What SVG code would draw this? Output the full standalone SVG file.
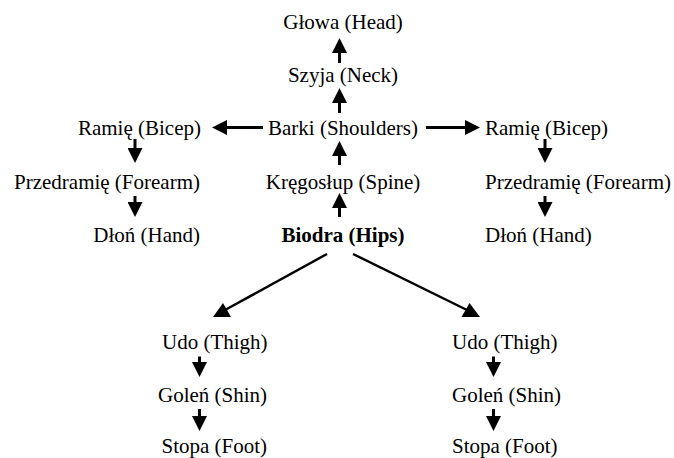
<svg xmlns="http://www.w3.org/2000/svg" width="674" height="458" viewBox="0 0 674 458">
<style>
text{font-family:"Liberation Serif","Times New Roman",serif;font-size:21px;fill:#000}
.b{font-weight:bold}
.c{text-anchor:middle}
.e{text-anchor:end}
.s{stroke:#000;stroke-width:3;fill:none}
.d{stroke:#000;stroke-width:2.5;fill:none}
.a{marker-end:url(#ah)}
</style>
<defs>
<marker id="ah" markerUnits="userSpaceOnUse" markerWidth="15" markerHeight="15" viewBox="0 0 15 15" refX="0" refY="7.5" orient="auto"><path d="M0,0 L15,7.5 L0,15 Z" fill="#000"/></marker>
</defs>
<rect width="674" height="458" fill="#fff"/>
<g id="connectors">
<line class="s a" x1="339.5" y1="63" x2="339.5" y2="53"/>
<line class="s a" x1="339.5" y1="113" x2="339.5" y2="103"/>
<line class="s a" x1="339.5" y1="165" x2="339.5" y2="156"/>
<line class="s a" x1="339.5" y1="217" x2="339.5" y2="208"/>
<line class="s a" x1="263" y1="127.5" x2="227" y2="127.5"/>
<line class="s a" x1="426" y1="127.5" x2="465" y2="127.5"/>
<line class="s a" x1="135" y1="139" x2="135" y2="148"/>
<line class="s a" x1="135" y1="196" x2="135" y2="202"/>
<line class="s a" x1="545" y1="139" x2="545" y2="148"/>
<line class="s a" x1="545" y1="196" x2="545" y2="202"/>
<line class="s a" x1="199.5" y1="356.5" x2="199.5" y2="362"/>
<line class="s a" x1="199.5" y1="409" x2="199.5" y2="416"/>
<line class="s a" x1="493.5" y1="356.5" x2="493.5" y2="362"/>
<line class="s a" x1="493.5" y1="409" x2="493.5" y2="416"/>
<line class="d" x1="327" y1="254" x2="225" y2="310"/>
<polygon points="213,317 231,317 223,303" fill="#000"/>
<line class="d" x1="353" y1="254" x2="469" y2="311"/>
<polygon points="461.5,317 480,317 469.5,303" fill="#000"/>
</g>
<g id="head"><text class="c" x="343" y="28.5">Głowa (Head)</text></g>
<g id="neck"><text class="c" x="343" y="82">Szyja (Neck)</text></g>
<g id="shoulders"><text class="c" x="343" y="135">Barki (Shoulders)</text></g>
<g id="bicep-l"><text class="e" x="201" y="135">Ramię (Bicep)</text></g>
<g id="bicep-r"><text x="485" y="135">Ramię (Bicep)</text></g>
<g id="forearm-l"><text class="e" x="200" y="188.5">Przedramię (Forearm)</text></g>
<g id="spine"><text class="c" x="343" y="188.5">Kręgosłup (Spine)</text></g>
<g id="forearm-r"><text x="485" y="188.5">Przedramię (Forearm)</text></g>
<g id="hand-l"><text class="e" x="200" y="242">Dłoń (Hand)</text></g>
<g id="hips"><text class="c b" x="343" y="242">Biodra (Hips)</text></g>
<g id="hand-r"><text x="485" y="242">Dłoń (Hand)</text></g>
<g id="thigh-l"><text x="162" y="348.5">Udo (Thigh)</text></g>
<g id="thigh-r"><text x="452" y="348.5">Udo (Thigh)</text></g>
<g id="shin-l"><text x="158" y="401.5">Goleń (Shin)</text></g>
<g id="shin-r"><text x="452" y="401.5">Goleń (Shin)</text></g>
<g id="foot-l"><text x="161.5" y="453">Stopa (Foot)</text></g>
<g id="foot-r"><text x="452" y="453">Stopa (Foot)</text></g>
</svg>
